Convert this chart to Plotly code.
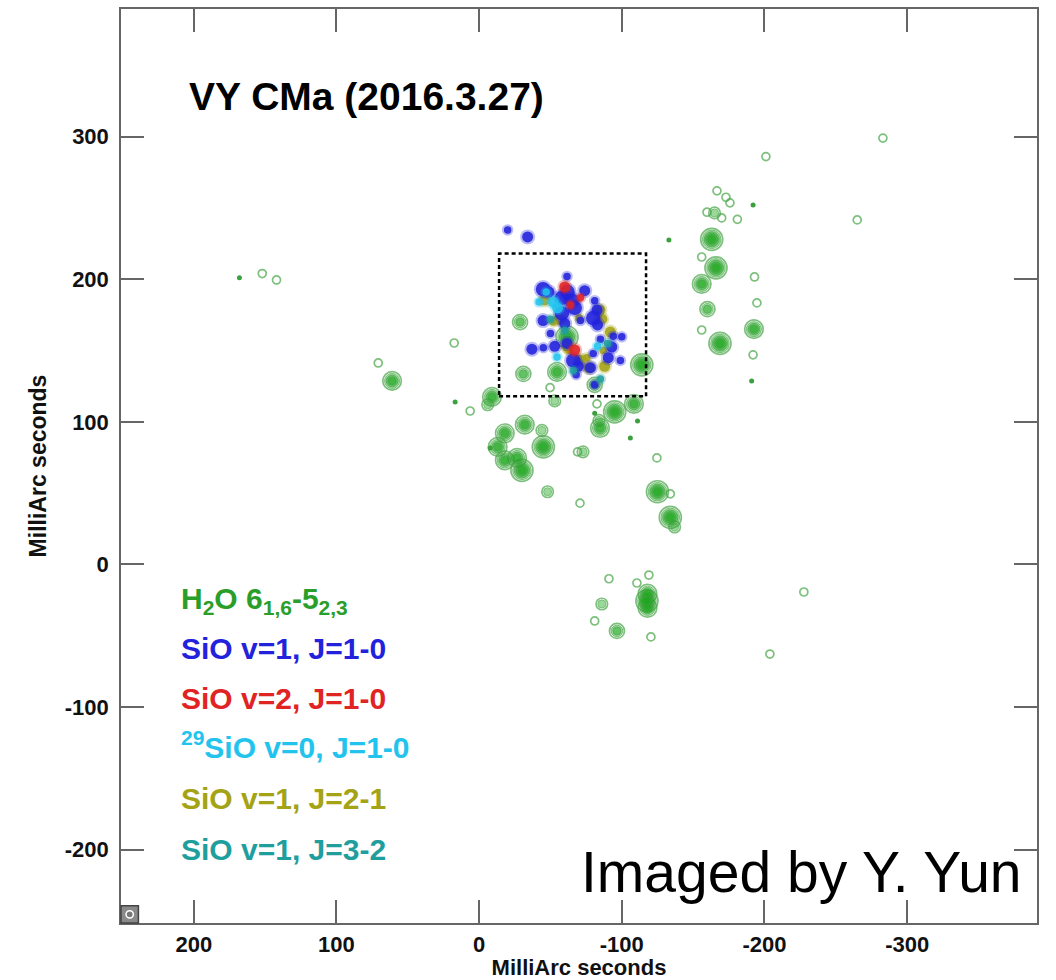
import plotly.graph_objects as go

# ---------------- H2O 6(1,6)-5(2,3) maser spots ----------------
# offsets in milliarcseconds (RA, Dec) and number of contour levels (0 = unresolved point)
h2o_ra = [168, 152, 142, 70.7, 61, 17.5, 16.8, 6.3, -9, -6,
          -28.7, -31, -54.6, -49.7, -61.6, -81, -114, -53,
          -82.6, -81, -95, -108.5, -111, -106, -84.7, -84, -18, -32, -44, -45,
          -13, -7.7, -18, -26.6, -30, -72.8, -69, -124.6, -48, -70.7,
          -125, -134, -134, -137,
          -91, -119, -110.6, -117.6, -118, -118, -86, -81, -96.6, -120.4, -227.6, -203.8,
          -201, -166.7, -192, -175.8, -173, -159.7, -165, -170, -181, -133,
          -163, -156, -166, -156, -193, -194.7, -160, -156, -192.6, -168.8,
          -192, -191, -265, -283]
h2o_dec = [201, 204, 199.5, 141.3, 128.7, 155.3, 114, 107.6, 117.5, 112,
           170, 133.6, 135, 124, 159.5, 126, 140, 114.7,
           112.6, 106, 107, 112.6, 100.6, 88.7, 95.7, 101, 92, 98, 94, 82.4,
           82.4, 81.7, 73, 74.7, 66, 79, 79, 74.7, 51, 43,
           51, 49.5, 33, 26.3,
           -10, -7.4, -13, -25.6, -20.5, -30.5, -27.7, -39.6, -46.6, -50.8, -19.3, -62.8,
           286, 262, 252, 253.6, 257.5, 247, 246.5, 243, 242, 227.6,
           228, 215.6, 208, 196.7, 201.6, 183.4, 179, 164.4, 165, 155,
           147, 128.7, 241.6, 299]
h2o_lev = [0, 1, 1, 1, 4, 1, 0, 1, 4, 2,
           3, 3, 4, 1, 5, 3, 5, 2,
           1, 0, 5, 4, 0, 0, 4, 2, 4, 4, 2, 5,
           4, 0, 4, 4, 5, 2, 1, 1, 2, 1,
           5, 1, 5, 2,
           1, 1, 1, 5, 4, 4, 2, 1, 3, 1, 1, 1,
           1, 1, 0, 1, 1, 1, 2, 1, 1, 0,
           5, 1, 5, 4, 1, 1, 3, 1, 4, 5,
           1, 0, 1, 1]

# ---------------- SiO maser spots (RA, Dec, relative strength 1-3) ----------------
sio_v1_j10_ra = [-20, -34, -61.6, -44.8, -49, -62, -74, -58, -65, -67, -82.6, -81, -80,
                 -83, -44.8, -58, -60, -71, -50, -37, -45, -53, -61.6, -66, -69.5,
                 -78, -93, -90.5, -94, -99, -85, -80, -68, -81, -100]
sio_v1_j10_dec = [234.6, 229.7, 202, 193, 191, 191, 192, 187, 185, 180, 178.5, 185, 172.8,
                  168, 171, 176, 169, 171, 162, 151, 152, 153, 155, 143, 139,
                  138, 152.5, 145, 160, 143, 158, 148, 133, 126, 159.6]
sio_v1_j10_str = [1, 2, 1, 3, 2, 3, 2, 3, 3, 3, 2, 1, 3,
                  2, 2, 3, 2, 1, 1, 2, 1, 2, 2, 3, 2,
                  2, 2, 2, 1, 1, 1, 1, 1, 1, 1]

sio_v2_j10_ra = [-60, -64, -67, -71]
sio_v2_j10_dec = [194.6, 182, 150.4, 187]
sio_v2_j10_str = [2, 1, 2, 1]

si29o_v0_j10_ra = [-55, -52, -47, -83, -54.6, -42]
si29o_v0_j10_dec = [180, 184, 191, 153, 145.5, 184]
si29o_v0_j10_str = [2, 2, 1, 1, 1, 1]

sio_v1_j21_ra = [-46, -56, -84.7, -86, -92, -61.6, -70.7, -75.5, -77, -88, -87, -70, -52, -63]
sio_v1_j21_dec = [185.5, 172, 178.5, 172, 163, 153, 143.4, 145, 138, 139, 150, 173, 170, 150]
sio_v1_j21_str = [2, 2, 2, 2, 2, 2, 2, 1, 2, 2, 1, 1, 1, 1]

sio_v1_j32_ra = [-50, -60, -85, -66, -90]
sio_v1_j32_dec = [172, 164, 130, 136, 155]
sio_v1_j32_str = [1, 1, 1, 1, 1]

# axis ticks and the inner region outline (mas)
tick_vals_ra = [200, 100, 0, -100, -200, -300]
tick_vals_dec = [-200, -100, 0, 100, 200, 300]
inner_box_ra = [-14, -117]
inner_box_dec = [118, 218]

GREEN = "#2a9e2a"
BLUE = "#2222dd"
RED = "#e02424"
CYAN = "#22c4ee"
OLIVE = "#a3a315"
TEAL = "#1f9e9e"

fig = go.Figure()

# H2O contours: nested rings, outermost open, inner ones filled so they build up
RING_BASE, RING_STEP = 8.0, 3.5
max_lev = max(h2o_lev)
for j in range(1, max_lev + 1):
    idx = [i for i, n in enumerate(h2o_lev) if n >= j]
    sizes = [RING_BASE + RING_STEP * (h2o_lev[i] - j) for i in idx]
    fig.add_trace(go.Scatter(
        x=[h2o_ra[i] for i in idx], y=[h2o_dec[i] for i in idx],
        mode="markers", hoverinfo="skip", showlegend=False,
        marker=dict(
            symbol="circle-open" if j == 1 else "circle",
            size=sizes,
            color="rgb(70,165,70)" if j == 1 else "rgba(24,168,24,0.62)",
            line=dict(color="rgb(66,160,66)", width=1.7 if j == 1 else 1.0),
        ),
    ))
pts = [i for i, n in enumerate(h2o_lev) if n == 0]
fig.add_trace(go.Scatter(
    x=[h2o_ra[i] for i in pts], y=[h2o_dec[i] for i in pts],
    mode="markers", hoverinfo="skip", showlegend=False,
    marker=dict(size=5, color="rgb(60,160,60)", line=dict(width=0)),
))

# SiO spots: soft halo plus solid core
def add_spots(ra, dec, strength, color):
    core = [4 + 3.5 * s for s in strength]
    fig.add_trace(go.Scatter(
        x=ra, y=dec, mode="markers", hoverinfo="skip", showlegend=False,
        marker=dict(size=[c + 4 for c in core], color=color, opacity=0.3, line=dict(width=0)),
    ))
    fig.add_trace(go.Scatter(
        x=ra, y=dec, mode="markers", hoverinfo="skip", showlegend=False,
        marker=dict(size=core, color=color, opacity=0.88, line=dict(width=0)),
    ))

add_spots(sio_v1_j21_ra, sio_v1_j21_dec, sio_v1_j21_str, OLIVE)
add_spots(sio_v1_j10_ra, sio_v1_j10_dec, sio_v1_j10_str, BLUE)
add_spots(sio_v2_j10_ra, sio_v2_j10_dec, sio_v2_j10_str, RED)
add_spots(si29o_v0_j10_ra, si29o_v0_j10_dec, si29o_v0_j10_str, CYAN)
add_spots(sio_v1_j32_ra, sio_v1_j32_dec, sio_v1_j32_str, TEAL)

# dotted outline of the inner SiO region
fig.add_shape(type="rect", xref="x", yref="y",
              x0=inner_box_ra[0], x1=inner_box_ra[1], y0=inner_box_dec[0], y1=inner_box_dec[1],
              line=dict(color="black", width=2.5, dash="4px,3px"))

# beam marker in the lower-left corner
fig.add_shape(type="rect", xref="paper", yref="paper", x0=0.0, x1=0.019, y0=0.0, y1=0.019,
              fillcolor="#8a8a8a", line=dict(color="#444", width=1.5))
fig.add_shape(type="circle", xref="paper", yref="paper", x0=0.0055, x1=0.0135, y0=0.0055, y1=0.0135,
              fillcolor="#777", line=dict(color="white", width=1.5))

FONT = "Liberation Sans, Arial, Helvetica, sans-serif"

# title and label list
fig.add_annotation(xref="paper", yref="paper", x=0.072, y=0.904, xanchor="left", yanchor="middle",
                   text="VY CMa (2016.3.27)", showarrow=False,
                   font=dict(family=FONT, size=39, color="black", weight="bold"))

labels = [
    ("H<sub>2</sub>O 6<sub>1,6</sub>-5<sub>2,3</sub>", GREEN, 600),
    ("SiO v=1, J=1-0", BLUE, 648),
    ("SiO v=2, J=1-0", RED, 698),
    ("<sup>29</sup>SiO v=0, J=1-0", CYAN, 745),
    ("SiO v=1, J=2-1", OLIVE, 798),
    ("SiO v=1, J=3-2", TEAL, 849),
]
for txt, col, ypix in labels:
    fig.add_annotation(xref="paper", yref="paper", x=(179 - 121) / 916, y=(923 - ypix) / 914,
                       xanchor="left", yanchor="middle", text=txt, showarrow=False,
                       font=dict(family=FONT, size=30, color=col, weight="bold"))

fig.add_annotation(xref="paper", yref="paper", x=(1024 - 121) / 916, y=(923 - 872) / 914,
                   xanchor="right", yanchor="middle", text="Imaged by Y. Yun", showarrow=False,
                   font=dict(family=FONT, size=57, color="black"))

axis_common = dict(
    showgrid=False, zeroline=False,
    showline=True, linecolor="#666", linewidth=1.5, mirror="ticks",
    ticks="inside", ticklen=23, tickwidth=1.5, tickcolor="#666",
    tickfont=dict(family=FONT, size=22, color="#111", weight="bold"),
)

fig.update_xaxes(range=[251, -391], tickvals=tick_vals_ra,
                 ticktext=[str(v) for v in tick_vals_ra], ticklabelstandoff=1,
                 title=dict(text="MilliArc seconds", standoff=9,
                            font=dict(family=FONT, size=22, color="#111", weight="bold")),
                 **axis_common)
fig.update_yaxes(range=[-251.4, 389.5], tickvals=tick_vals_dec,
                 ticktext=[str(v) for v in tick_vals_dec], ticklabelstandoff=6,
                 title=dict(text="MilliArc seconds", standoff=12,
                            font=dict(family=FONT, size=23, color="#111", weight="bold")),
                 **axis_common)

fig.update_layout(
    width=1056, height=980,
    margin=dict(l=121, r=19, t=9, b=57, autoexpand=False),
    paper_bgcolor="white", plot_bgcolor="white",
    showlegend=False,
)

fig.write_html("out.html")
